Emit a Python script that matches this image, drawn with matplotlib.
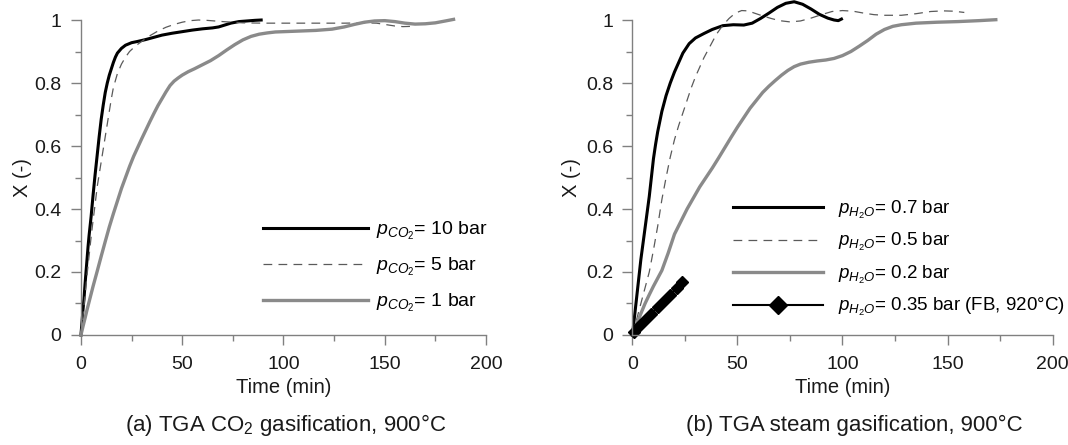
"""Conversion vs time for TGA CO2 and steam gasification (two panels)."""
import matplotlib
matplotlib.use("Agg")
import matplotlib.pyplot as plt

plt.rcParams["font.family"] = ["Liberation Sans", "DejaVu Sans"]
plt.rcParams["mathtext.fontset"] = "custom"
plt.rcParams["mathtext.rm"] = "Liberation Sans"
plt.rcParams["mathtext.it"] = "Liberation Sans:italic"

# ---- panel (a): CO2 gasification ----
t_co2_10 = [0, 0.5, 1, 1.5, 2, 2.5, 3, 3.5, 4, 5, 6, 7, 8, 9, 10, 11, 12, 13, 14, 15,
            16, 17, 18, 20, 22, 25, 28, 32, 36, 40, 45, 50, 55, 60, 65, 68, 71, 74,
            78, 82, 86, 89]
x_co2_10 = [0, 0.04, 0.08, 0.115, 0.16, 0.2, 0.24, 0.28, 0.315, 0.375, 0.445, 0.51,
            0.57, 0.63, 0.685, 0.73, 0.77, 0.8, 0.825, 0.845, 0.865, 0.882, 0.895,
            0.91, 0.92, 0.928, 0.932, 0.938, 0.945, 0.952, 0.958, 0.963, 0.968,
            0.972, 0.975, 0.978, 0.984, 0.99, 0.995, 0.997, 0.999, 1.0]

t_co2_5 = [0, 1, 2, 3, 4, 5, 6, 7, 8, 9, 10, 11, 12, 13, 14, 15, 16, 18, 20, 22, 24,
           27, 30, 34, 38, 42, 46, 50, 54, 58, 62, 66, 70, 75, 80, 90, 100, 110, 120,
           130, 140, 146, 150, 155, 159, 164]
x_co2_5 = [0, 0.06, 0.125, 0.19, 0.25, 0.31, 0.365, 0.415, 0.47, 0.51, 0.55, 0.59,
           0.63, 0.67, 0.71, 0.75, 0.785, 0.83, 0.86, 0.882, 0.9, 0.918, 0.932, 0.95,
           0.965, 0.977, 0.986, 0.993, 0.998, 1.0, 0.999, 0.997, 0.995, 0.993, 0.991,
           0.99, 0.99, 0.99, 0.99, 0.99, 0.991, 0.99, 0.986, 0.981, 0.979, 0.98]

t_co2_1 = [0, 1, 2, 3, 4, 6, 8, 10, 12, 14, 16, 18, 20, 22, 24, 26, 28, 30, 32, 34,
           36, 38, 40, 42, 44, 46, 48, 50, 53, 56, 60, 64, 68, 72, 76, 80, 84, 88,
           92, 96, 100, 108, 116, 124, 130, 135, 140, 145, 150, 155, 160, 165, 170,
           175, 180, 184]
x_co2_1 = [0, 0.027, 0.053, 0.08, 0.105, 0.155, 0.202, 0.25, 0.297, 0.343, 0.385,
           0.425, 0.465, 0.5, 0.535, 0.567, 0.595, 0.623, 0.65, 0.677, 0.703, 0.728,
           0.75, 0.772, 0.792, 0.806, 0.816, 0.825, 0.836, 0.845, 0.858, 0.871,
           0.887, 0.905, 0.922, 0.937, 0.948, 0.955, 0.959, 0.962, 0.963, 0.965,
           0.967, 0.971, 0.978, 0.986, 0.993, 0.997, 0.998, 0.995, 0.99, 0.987,
           0.988, 0.991, 0.997, 1.002]

# ---- panel (b): steam gasification ----
t_h2o_07 = [0, 1, 2, 3, 4, 5, 6, 7, 8, 9, 10, 11, 12, 14, 16, 18, 20, 22, 24, 27, 30,
            34, 38, 43, 48, 53, 57, 61, 65, 69, 73, 77, 81, 85, 89, 93, 96, 98, 99.5]
x_h2o_07 = [0, 0.06, 0.12, 0.18, 0.24, 0.29, 0.34, 0.39, 0.44, 0.5, 0.56, 0.605,
            0.645, 0.71, 0.76, 0.8, 0.835, 0.865, 0.895, 0.925, 0.943, 0.957, 0.97,
            0.982, 0.985, 0.984, 0.99, 1.005, 1.022, 1.04, 1.053, 1.058, 1.05, 1.035,
            1.018, 1.006, 1.0, 0.998, 1.003]

t_h2o_05 = [0, 2, 4, 6, 8, 10, 12, 14, 16, 18, 20, 22, 24, 26, 28, 30, 32, 34, 36,
            38, 40, 43, 46, 49, 52, 55, 58, 62, 66, 70, 75, 80, 85, 90, 95, 100, 105,
            110, 115, 120, 128, 135, 142, 148, 153, 158]
x_h2o_05 = [0, 0.05, 0.1, 0.15, 0.2, 0.27, 0.345, 0.43, 0.5, 0.565, 0.62, 0.665,
            0.705, 0.745, 0.785, 0.82, 0.85, 0.88, 0.905, 0.93, 0.955, 0.983, 1.005,
            1.022, 1.03, 1.029, 1.022, 1.013, 1.005, 0.998, 0.994, 0.997, 1.006,
            1.017, 1.027, 1.03, 1.028, 1.022, 1.017, 1.015, 1.015, 1.02, 1.027,
            1.029, 1.028, 1.024]

t_h2o_02 = [0, 2, 4, 6, 8, 10, 12, 14, 17, 20, 23, 26, 29, 32, 35, 38, 41, 44, 47,
            50, 53, 56, 59, 62, 65, 68, 71, 74, 77, 80, 84, 88, 92, 96, 100, 104,
            108, 112, 116, 120, 124, 128, 135, 145, 155, 165, 173]
x_h2o_02 = [0, 0.035, 0.068, 0.1, 0.128, 0.155, 0.18, 0.205, 0.26, 0.32, 0.36, 0.4,
            0.435, 0.47, 0.5, 0.53, 0.562, 0.595, 0.628, 0.66, 0.69, 0.72, 0.745,
            0.77, 0.79, 0.808, 0.825, 0.84, 0.852, 0.86, 0.866, 0.87, 0.873, 0.878,
            0.887, 0.9, 0.917, 0.935, 0.955, 0.97, 0.98, 0.985, 0.99, 0.993, 0.995,
            0.998, 1.001]

t_fb = [0.5, 3, 6, 9, 12, 15, 18, 21, 23.5]
x_fb = [0.01, 0.028, 0.048, 0.068, 0.088, 0.108, 0.128, 0.15, 0.168]

BLACK = "#000000"
GREY = "#8a8a8a"
DASH = "#5a5a5a"
AXIS = "#808080"


def style_axes(ax):
    ax.set_xlim(0, 200)
    ax.set_ylim(0, 1.06)
    for side in ("top", "right"):
        ax.spines[side].set_visible(False)
    for side in ("left", "bottom"):
        ax.spines[side].set_color(AXIS)
        ax.spines[side].set_linewidth(1.0)
    ax.spines["left"].set_bounds(0, 1)
    ax.set_xticks([0, 50, 100, 150, 200])
    ax.set_xticks([25, 75, 125, 175], minor=True)
    ax.set_yticks([0, 0.2, 0.4, 0.6, 0.8, 1.0])
    ax.set_yticklabels(["0", "0.2", "0.4", "0.6", "0.8", "1"])
    ax.set_yticks([0.1, 0.3, 0.5, 0.7, 0.9], minor=True)
    ax.tick_params(which="major", length=7, width=1.0, color=AXIS,
                   labelsize=14, labelcolor="#1a1a1a")
    ax.tick_params(which="minor", length=4, width=1.0, color=AXIS)
    ax.tick_params(axis="x", pad=8)
    ax.tick_params(axis="y", pad=7)
    ax.set_xlabel("Time (min)", fontsize=14.5, color="#1a1a1a")
    ax.set_ylabel("X (-)", fontsize=14.5, color="#1a1a1a")
    ax.xaxis.set_label_coords(0.5, -0.13)
    ax.yaxis.set_label_coords(-0.122, 0.472)


fig = plt.figure(figsize=(10.68, 4.45), dpi=100)
ax1 = fig.add_axes([0.0758, 0.2472, 0.3792, 0.7503])
ax2 = fig.add_axes([0.5922, 0.2472, 0.3933, 0.7503])

ax1.plot(t_co2_10, x_co2_10, color=BLACK, lw=2.2, label=r"$p_{CO_2}$= 10 bar", clip_on=False)
ax1.plot(t_co2_5, x_co2_5, color=DASH, lw=0.9, ls=(0, (7, 5)), label=r"$p_{CO_2}$= 5 bar", clip_on=False)
ax1.plot(t_co2_1, x_co2_1, color=GREY, lw=2.4, label=r"$p_{CO_2}$= 1 bar", clip_on=False)
style_axes(ax1)
ax1.legend(loc="center left", bbox_to_anchor=(0.449, 0.203), frameon=False,
           fontsize=14, handlelength=5.4, handletextpad=0.43, borderpad=0,
           borderaxespad=0, labelspacing=0.72)

ax2.plot(t_h2o_07, x_h2o_07, color=BLACK, lw=2.2, label=r"$p_{H_2O}$= 0.7 bar", clip_on=False)
ax2.plot(t_h2o_05, x_h2o_05, color=DASH, lw=0.9, ls=(0, (7, 5)), label=r"$p_{H_2O}$= 0.5 bar", clip_on=False)
ax2.plot(t_h2o_02, x_h2o_02, color=GREY, lw=2.4, label=r"$p_{H_2O}$= 0.2 bar", clip_on=False)
ax2.plot(t_fb, x_fb, color=BLACK, lw=1.5, marker="D", ms=6, clip_on=False,
         label=r"$p_{H_2O}$= 0.35 bar (FB, 920°C)")
style_axes(ax2)
ax2.legend(loc="center left", bbox_to_anchor=(0.239, 0.229), frameon=False,
           fontsize=13.5, handlelength=4.8, handletextpad=0.8, borderpad=0,
           borderaxespad=0, labelspacing=0.55, markerscale=1.45)

fig.text(0.2678, 0.045, "(a) TGA CO$_2$ gasification, 900°C", ha="center",
         va="center", fontsize=16, color="#1a1a1a")
fig.text(0.8003, 0.045, "(b) TGA steam gasification, 900°C", ha="center",
         va="center", fontsize=16, color="#1a1a1a")

fig.savefig("out.png", dpi=100)
